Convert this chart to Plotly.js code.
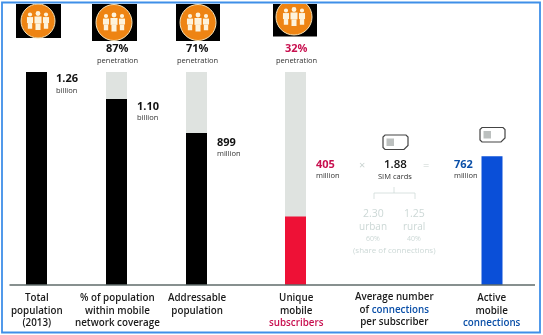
<!DOCTYPE html>
<html><head><meta charset="utf-8">
<script src="https://cdn.plot.ly/plotly-3.0.1.min.js"></script>
<style>html,body{margin:0;padding:0;background:#fff;overflow:hidden}#c{width:543px;height:335px;filter:blur(0.35px)}</style>
</head><body><div id="c"></div>
<script>
// Data (millions)
const categories = ["Total<br>population<br>(2013)", "% of population<br>within mobile<br>network coverage", "Addressable<br>population", "Unique<br>mobile<br><span style=\"color:#c8104f\">subscribers</span>", "Average number<br>of <span style=\"color:#0a4fa8\">connections</span><br>per subscriber", "Active<br>mobile<br><span style=\"color:#0a4fa8\">connections</span>"];
const totalPopulation = [1260, 1260, 1260, 1260];
const filledValues = [1260, 1100, 899, 405, 762];
const valueNumbers = ["1.26", "1.10", "899", "405", "762"];
const valueUnits = ["billion", "billion", "million", "million", "million"];
const penetration = ["87%", "71%", "32%"];
const barColors = ["#000000", "#000000", "#000000", "#ee1136", "#0a4fd8"];
const backgroundBarX = [36.5, 116.5, 196.5, 295.5];
const barX = [36.5, 116.5, 196.5, 295.5, 492];

const FONT = "'Open Sans', sans-serif";
const PT = 72, PB = 285;
const py = y => (PB - y) / (PB - PT);

const traces = [
  {type:'bar', x:backgroundBarX, y:totalPopulation, width:21, marker:{color:'#dfe3e0'}, hoverinfo:'skip'},
  {type:'bar', x:barX, y:filledValues, width:21, marker:{color:barColors}, hoverinfo:'skip'}
];

const annotations = [];
function txt(x, y, text, size, color, opt) {
  opt = opt || {};
  annotations.push({xref:'x', yref:'paper', x:x, y:py(y), text:text, showarrow:false,
    xanchor:opt.anchor||'center', yanchor:opt.vanchor||'middle', align:opt.anchor==='left'?'left':'center',
    font:{family:FONT, size:size, color:color, weight:opt.weight||500}, borderpad:0, captureevents:false});
}
// value labels
const valuePos = [[55,78,90],[135.5,105,117],[215.5,141,153],[314.5,163,175],[452.5,163,175]];
const valueCols = ['#111','#111','#111','#c8104f','#0a4fa8'];
valuePos.forEach((p,i)=>{
  txt(p[0], p[1], valueNumbers[i], 11, valueCols[i], {anchor:'left', weight:700});
  txt(p[0], p[2], valueUnits[i], 7.5, '#333', {anchor:'left'});
});
// penetration
[[117,penetration[0],'#111'],[197,penetration[1],'#111'],[296,penetration[2],'#c8104f']].forEach(p=>{
  txt(p[0], 48, p[1], 11, p[2], {weight:700});
  txt(p[0], 60, 'penetration', 7.5, '#333');
});
// middle formula
txt(361.5, 164, '×', 11, '#c9d3d0');
txt(395, 163, '1.88', 11.5, '#111', {weight:600});
txt(425.5, 164, '=', 11, '#c9d3d0');
txt(395, 176, 'SIM cards', 7.5, '#333');
const faint = '#ccd8d6';
txt(373, 212.5, '2.30', 10.5, faint);
txt(414, 212.5, '1.25', 10.5, faint);
txt(373, 226, 'urban', 10, faint);
txt(414, 226, 'rural', 10, faint);
txt(373, 238, '60%', 7, faint);
txt(414, 238, '40%', 7, faint);
txt(394, 249, '(share of connections)', 8, faint);
// category labels
const catPos = [[36.5,310],[117,310],[197,304],[296,310],[394,309],[492,310]];
categories.forEach((c,i)=>txt(catPos[i][0], catPos[i][1], c, 9.8, '#1a1a1a', {weight:600}));

// shapes
const shapes = [];
const rect = (x0,y0,x1,y1,fill,line,lw)=>shapes.push({type:'rect',xref:'x',yref:'paper',x0,x1,y0:py(y0),y1:py(y1),fillcolor:fill,line:{color:line||fill,width:lw||0},layer:'above'});
const circ = (cx,cy,r,fill,line,lw)=>shapes.push({type:'circle',xref:'x',yref:'paper',x0:cx-r,x1:cx+r,y0:py(cy-r),y1:py(cy+r),fillcolor:fill,line:{color:line||fill,width:lw||0},layer:'above'});
const seg = (x0,y0,x1,y1,color,lw)=>shapes.push({type:'line',xref:'x',yref:'paper',x0,x1,y0:py(y0),y1:py(y1),line:{color,width:lw||1},layer:'above'});

function icon(x0,y0,x1,y1,cx,cy,r){
  rect(x0,y0,x1,y1,'#000');
  circ(cx,cy,r,'#ee8413','#f6e3b8',1);
  const cream='#fdf3dc';
  [[-8,1,0.95],[0,0,1.1],[8,1,0.95]].forEach(f=>{
    const px=cx+f[0], top=cy-7.5+f[1], s=f[2];
    circ(px,top,2.2*s,cream);
    rect(px-3.2*s,top+2.7*s,px+3.2*s,top+9*s,cream);
    rect(px-2.3*s,top+9*s,px+2.3*s,top+15*s,cream);
  });
}
icon(16,4,61,38,38,21,17);
icon(92,4,137,41,114,22.5,18);
icon(176,4,220,41,198,22.5,18);
icon(273,4,317,36.5,294,17,18);
rect(270,0,320,4,'#fff');

function sim(x0,y0,x1,y1){
  const ya=p=>py(p);
  shapes.push({type:'path',xref:'x',yref:'paper',layer:'above',fillcolor:'#fff',line:{color:'#444',width:1.2},
    path:`M ${x0+2} ${ya(y0)} L ${x1-2} ${ya(y0)} L ${x1} ${ya(y0+2)} L ${x1} ${ya(y1-4)} L ${x1-4} ${ya(y1)} L ${x0+2} ${ya(y1)} L ${x0} ${ya(y1-2)} L ${x0} ${ya(y0+2)} Z`});
  rect(x0+3.5,y0+3.5,x0+11,y1-3.5,'#bcc0bf');
}
sim(383,135,408,149.5);
sim(480,127.5,505,142);

// bracket
const br='#cfdbd8';
seg(374,193,415,193,br,0.8); seg(374,193,374,199,br,0.8); seg(415,193,415,199,br,0.8); seg(394,187,394,193,br,0.8);
// baseline
seg(9.5,285,535,285,'#5f6b6a',1.3);
// frame
shapes.push({type:'rect',xref:'paper',yref:'paper',layer:'above',x0:2/543,x1:540/543,y0:py(332.5),y1:py(2.5),fillcolor:'rgba(0,0,0,0)',line:{color:'#3f8fe8',width:1.8}});

Plotly.newPlot('c', traces, {
  width:543, height:335, margin:{l:0,r:0,t:PT,b:335-PB,pad:0},
  paper_bgcolor:'#fff', plot_bgcolor:'#fff', showlegend:false, barmode:'overlay',
  xaxis:{range:[0,543],visible:false,fixedrange:true},
  yaxis:{range:[0,1260],visible:false,fixedrange:true},
  annotations, shapes
},{displayModeBar:false,staticPlot:true});
</script></body></html>
